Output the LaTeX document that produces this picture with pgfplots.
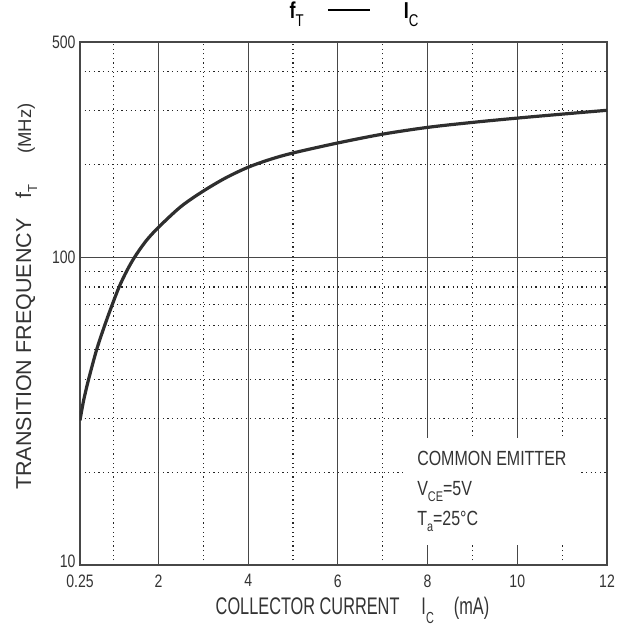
\documentclass[border=0pt]{standalone}
\usepackage{fontspec}
\setmainfont{Liberation Sans}[FakeStretch=0.78]
\newfontfamily\xlabfont{Liberation Sans}[FakeStretch=0.68]
\newfontfamily\ylabfont{Liberation Sans}
\usepackage{pgfplots}
\pgfplotsset{compat=1.18}

\begin{document}
\begin{tikzpicture}[x=1pt,y=1pt]
\path[use as bounding box] (-80,-62) rectangle (547,565);
\begin{axis}[
  at={(0,0)}, anchor=south west,
  scale only axis, width=527pt, height=523pt,
  xmin=0.25, xmax=12,
  ymode=log, ymin=10, ymax=500,
  xtick={0.25,2,4,6,8,10,12},
  xticklabels={0.25,2,4,6,8,10,12},
  minor xtick={1,3,5,7,9,11},
  ytick={10,100,500},
  yticklabels={\raisebox{8pt}{10},100,500},
  minor ytick={20,30,40,50,60,70,80,90,200,300,400},
  major tick length=0pt, minor tick length=0pt,
  grid=both,
  major grid style={black!72, line width=0.9pt},
  minor grid style={black!85, line width=1.2pt, dash pattern=on 1.2pt off 3.4pt},
  axis line style={black!72, line width=1.1pt},
  /pgf/number format/assume math mode=true,
  tick label style={font=\fontsize{18}{18}\selectfont, text=black!80},
  xticklabel style={yshift=-6pt},
  yticklabel style={xshift=-1pt},
  xlabel={COLLECTOR CURRENT\hspace{22pt}I\raisebox{-9pt}{\fontsize{16}{16}\selectfont C}\hspace{20pt}(mA)},
  xlabel style={font=\xlabfont\fontsize{24}{24}\selectfont, text=black!80, yshift=-3pt, xshift=9pt},
  ylabel={TRANSITION FREQUENCY\hspace{20pt}f\raisebox{-6pt}{\fontsize{13}{13}\selectfont T}\hspace{31pt}{\fontsize{18.5}{18.5}\selectfont(MHz)}},
  ylabel style={font=\ylabfont\fontsize{21.5}{21.5}\selectfont, text=black!80, yshift=8pt, xshift=7pt},
  title={\textbf{f}\raisebox{-8pt}{\fontsize{17}{17}\selectfont T}\hspace{24pt}\rule[8pt]{42pt}{2.3pt}\hspace{34pt}\textbf{I}\raisebox{-8pt}{\fontsize{17}{17}\selectfont C}},
  title style={font=\fontsize{23}{23}\selectfont, at={(0.52,1.0325)}, anchor=base},
]
\addplot[black!82, line width=3.2pt, smooth] coordinates {
(0.25,29.5) (0.33,34.2) (0.44,40) (0.62,50) (0.80,60) (0.967,70)
(1.122,80) (1.289,90) (1.467,100) (1.72,112.8) (2,125) (2.5,146)
(3,164) (3.5,181) (4,196) (4.5,208) (5,218) (6,235) (7,251)
(8,264) (9,274) (10,283) (11,291.5) (12,300)
};
\node[fill=white, anchor=north west, align=left, inner xsep=14pt, inner ysep=13pt,
      font=\fontsize{20.5}{30}\selectfont, text=black!80]
  at (rel axis cs:0.613,0.243)
  {COMMON EMITTER\\
   V\raisebox{-6pt}{\fontsize{14}{14}\selectfont CE}=5V\\
   T\raisebox{-6pt}{\fontsize{14}{14}\selectfont a}=25°C};
\end{axis}
\end{tikzpicture}
\end{document}
